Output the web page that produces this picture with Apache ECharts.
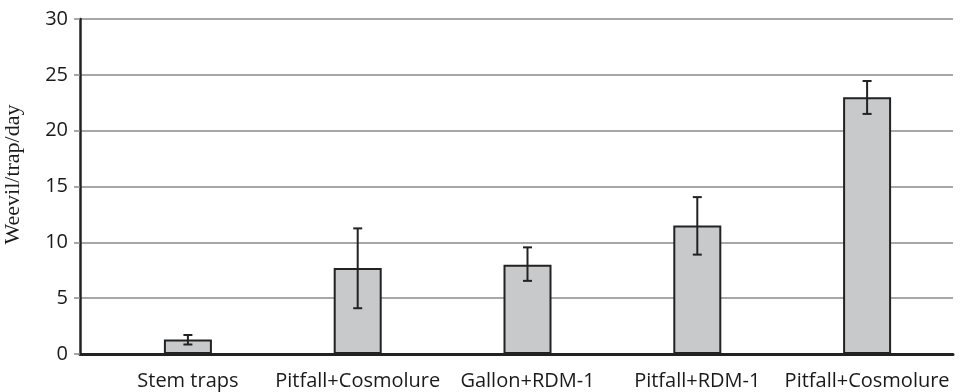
<!DOCTYPE html>
<html>
<head>
<meta charset="utf-8">
<script src="https://cdn.jsdelivr.net/npm/echarts@6/dist/echarts.min.js"></script>
<style>
  html, body { margin: 0; padding: 0; background: #fff; }
  #chart { width: 965px; height: 392px; }
</style>
</head>
<body>
<div id="chart"></div>
<script>
const categories = ['Stem traps', 'Pitfall+Cosmolure', 'Gallon+RDM-1', 'Pitfall+RDM-1', 'Pitfall+Cosmolure']
const means = [1.3, 7.7, 8.0, 11.5, 23.0]
const errLow = [0.85, 4.1, 6.55, 8.9, 21.5]
const errHigh = [1.7, 11.25, 9.55, 14.05, 24.45]
const yTicks = { min: 0, max: 30, step: 5 }

const chart = echarts.init(document.getElementById('chart'))

const dark = '#222'
const gridGray = '#8a8a8a'

const option = {
  animation: false,
  grid: [
    // frame grid: y axis, gridlines, x baseline
    { left: 80, right: 12, top: 19, bottom: 38, containLabel: false, outerBoundsMode: 'none' },
    // plotting grid: bars sit in a slightly narrower band
    { left: 103, right: 13, top: 19, bottom: 38, containLabel: false, outerBoundsMode: 'none' }
  ],
  xAxis: [
    {
      gridIndex: 0,
      type: 'category',
      data: categories,
      axisLine: { lineStyle: { color: dark, width: 3 } },
      axisTick: { show: false },
      axisLabel: { show: false }
    },
    {
      gridIndex: 1,
      type: 'category',
      data: categories,
      axisLine: { show: false },
      axisTick: { show: false },
      axisLabel: {
        color: '#1a1a1a',
        fontFamily: 'Open Sans',
        fontSize: 20,
        margin: 17,
        interval: 0
      }
    }
  ],
  yAxis: [
    {
      gridIndex: 0,
      type: 'value',
      min: yTicks.min,
      max: yTicks.max,
      interval: yTicks.step,
      name: 'Weevil/trap/day',
      nameLocation: 'middle',
      nameGap: 56,
      nameTextStyle: {
        fontFamily: 'Liberation Serif',
        fontSize: 22,
        color: '#1a1a1a',
        padding: [0, 0, 0, 24]
      },
      axisLine: { show: true, lineStyle: { color: dark, width: 2.5 } },
      axisTick: { show: true, length: 6, lineStyle: { color: gridGray, width: 1.5 } },
      axisLabel: {
        color: '#1a1a1a',
        fontFamily: 'Open Sans',
        fontSize: 20,
        margin: 12
      },
      splitLine: { lineStyle: { color: gridGray, width: 1.5 } }
    },
    {
      gridIndex: 1,
      type: 'value',
      min: yTicks.min,
      max: yTicks.max,
      interval: yTicks.step,
      show: false
    }
  ],
  series: [
    {
      type: 'bar',
      xAxisIndex: 1,
      yAxisIndex: 1,
      data: means,
      barWidth: 48,
      itemStyle: {
        color: '#c8c9cb',
        borderColor: dark,
        borderWidth: 2
      }
    },
    {
      type: 'custom',
      xAxisIndex: 1,
      yAxisIndex: 1,
      data: categories.map((c, i) => [i, errLow[i], errHigh[i]]),
      z: 10,
      renderItem: (params, api) => {
        const lo = api.coord([api.value(0), api.value(1)])
        const hi = api.coord([api.value(0), api.value(2)])
        const cap = 4.5
        const style = { stroke: dark, lineWidth: 2 }
        return {
          type: 'group',
          children: [
            { type: 'line', shape: { x1: hi[0], y1: hi[1], x2: lo[0], y2: lo[1] }, style },
            { type: 'line', shape: { x1: hi[0] - cap, y1: hi[1], x2: hi[0] + cap, y2: hi[1] }, style },
            { type: 'line', shape: { x1: lo[0] - cap, y1: lo[1], x2: lo[0] + cap, y2: lo[1] }, style }
          ]
        }
      }
    }
  ]
}

chart.setOption(option)
</script>
</body>
</html>
